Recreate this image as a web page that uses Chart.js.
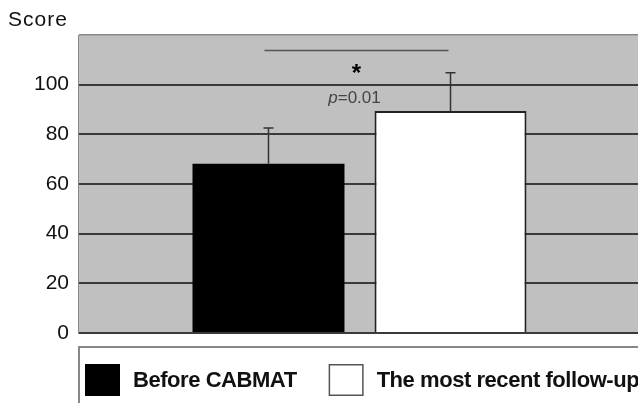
<!DOCTYPE html>
<html>
<head>
<meta charset="utf-8">
<script src="https://cdn.jsdelivr.net/npm/chart.js@4"></script>
<style>
html,body{margin:0;padding:0;background:#fff;overflow:hidden;}
#clip{width:638px;height:403px;overflow:hidden;position:relative;}
#wrap{width:642px;height:403px;position:absolute;left:0;top:0;}
</style>
</head>
<body>
<div id="clip"><div id="wrap"><canvas id="c"></canvas></div></div>
<script>
// ---- data ----
const categories = [''];
const seriesNames = ['Before CABMAT', 'The most recent follow-up'];
const meanScores = [68.2, 89.4];
const sdUpper = [14.4, 15.4];
const yTickValues = [0, 20, 40, 60, 80, 100];
const yMax = 120;
const sigBarLevel = [113.8];
const sigStarLevel = [105.7];
const sigTextLevel = [94.5];
const sigMark = ['*'];
const sigPText = ['p', '=0.01'];
const axisTitle = ['Score'];

const fills = ['#000000', '#ffffff'];
const borders = ['#000000', '#222222'];
const FONT = '"Liberation Sans", Arial, sans-serif';

const bgPlugin = {
  id: 'plotBg',
  beforeDraw(chart) {
    const {ctx, chartArea: a} = chart;
    ctx.save();
    ctx.fillStyle = '#c0c0c0';
    ctx.fillRect(a.left, a.top, a.right - a.left, a.bottom - a.top);
    ctx.restore();
  }
};

const extrasPlugin = {
  id: 'extras',
  afterDatasetsDraw(chart) {
    const {ctx} = chart;
    const y = chart.scales.y;
    const centers = [];
    ctx.save();
    // error bars (upper only)
    chart.data.datasets.forEach((ds, i) => {
      const el = chart.getDatasetMeta(i).data[0];
      centers.push(el.x);
      const top = y.getPixelForValue(meanScores[i] + sdUpper[i]);
      ctx.strokeStyle = '#333';
      ctx.lineWidth = 1.5;
      ctx.beginPath();
      ctx.moveTo(el.x, el.y);
      ctx.lineTo(el.x, top);
      ctx.moveTo(el.x - 5, top);
      ctx.lineTo(el.x + 5, top);
      ctx.stroke();
    });
    // significance bracket
    const sy = y.getPixelForValue(sigBarLevel[0]);
    ctx.strokeStyle = '#555';
    ctx.lineWidth = 1.5;
    ctx.beginPath();
    ctx.moveTo(centers[0] - 4, sy);
    ctx.lineTo(centers[1] - 2, sy);
    ctx.stroke();
    const mx = (centers[0] - 4 + centers[1] - 2) / 2;
    ctx.fillStyle = '#000';
    ctx.font = 'bold 24px ' + FONT;
    ctx.textAlign = 'center';
    ctx.textBaseline = 'middle';
    ctx.fillText(sigMark[0], mx, y.getPixelForValue(sigStarLevel[0]) + 4);
    // p=0.01
    ctx.fillStyle = '#444';
    const ty = y.getPixelForValue(sigTextLevel[0]);
    ctx.font = 'italic 17px ' + FONT;
    const w1 = ctx.measureText(sigPText[0]).width;
    ctx.font = '17px ' + FONT;
    const w2 = ctx.measureText(sigPText[1]).width;
    const x0 = mx - (w1 + w2) / 2 - 2;
    ctx.textAlign = 'left';
    ctx.font = 'italic 17px ' + FONT;
    ctx.fillText(sigPText[0], x0, ty);
    ctx.font = '17px ' + FONT;
    ctx.fillText(sigPText[1], x0 + w1, ty);
    ctx.restore();
  },
  afterDraw(chart) {
    const {ctx, chartArea: a} = chart;
    ctx.save();
    // axis title
    ctx.fillStyle = '#111';
    ctx.font = '21px ' + FONT;
    ctx.letterSpacing = '1px';
    ctx.textAlign = 'left';
    ctx.textBaseline = 'middle';
    ctx.fillText(axisTitle[0], 8, 20);
    // legend frame
    const lt = a.bottom + 14;
    ctx.strokeStyle = '#888';
    ctx.lineWidth = 2;
    ctx.strokeRect(a.left + 1, lt, 700, 100);
    // legend items
    ctx.font = 'bold 22px ' + FONT;
    ctx.letterSpacing = '-0.45px';
    let x = a.left + 7;
    const boxTop = lt + 17;
    chart.data.datasets.forEach((ds, i) => {
      ctx.fillStyle = ds.backgroundColor;
      ctx.fillRect(x, boxTop, 35, 32);
      ctx.strokeStyle = i === 0 ? '#000' : '#555';
      ctx.lineWidth = 1.5;
      ctx.strokeRect(x + 0.75, boxTop + 0.75, 33.5, 30.5);
      ctx.fillStyle = '#111';
      const tx = x + 35 + 13;
      ctx.fillText(ds.label, tx, boxTop + 17);
      x = tx + ctx.measureText(ds.label).width + 32;
    });
    ctx.restore();
  }
};

new Chart(document.getElementById('c'), {
  type: 'bar',
  data: {
    labels: categories,
    datasets: seriesNames.map((name, i) => ({
      label: name,
      data: [meanScores[i]],
      backgroundColor: fills[i],
      borderColor: borders[i],
      borderWidth: i === 0 ? 0 : 2,
      categoryPercentage: 0.6466,
      barPercentage: 0.835
    }))
  },
  options: {
    responsive: true,
    maintainAspectRatio: false,
    animation: false,
    devicePixelRatio: 1,
    layout: {padding: {left: 0, top: 35, right: 1, bottom: 70}},
    plugins: {
      legend: {display: false},
      tooltip: {enabled: false},
      title: {display: false}
    },
    scales: {
      x: {display: false},
      y: {
        min: 0,
        max: yMax,
        afterFit(s) { s.width = 78; },
        afterBuildTicks(s) {
          s.ticks = yTickValues.concat([yMax]).map(v => ({value: v}));
        },
        ticks: {
          color: '#111',
          padding: 9,
          font: {family: FONT, size: 21},
          callback: (v) => (yTickValues.includes(v) ? String(v) : '')
        },
        grid: {
          drawTicks: false,
          color: (c) => (c.tick && c.tick.value === yMax ? '#888' : '#3a3a3a'),
          lineWidth: (c) => (c.tick && c.tick.value === yMax ? 1.5 : 2)
        },
        border: {display: true, color: '#888', width: 1}
      }
    }
  },
  plugins: [bgPlugin, extrasPlugin]
});
</script>
</body>
</html>
